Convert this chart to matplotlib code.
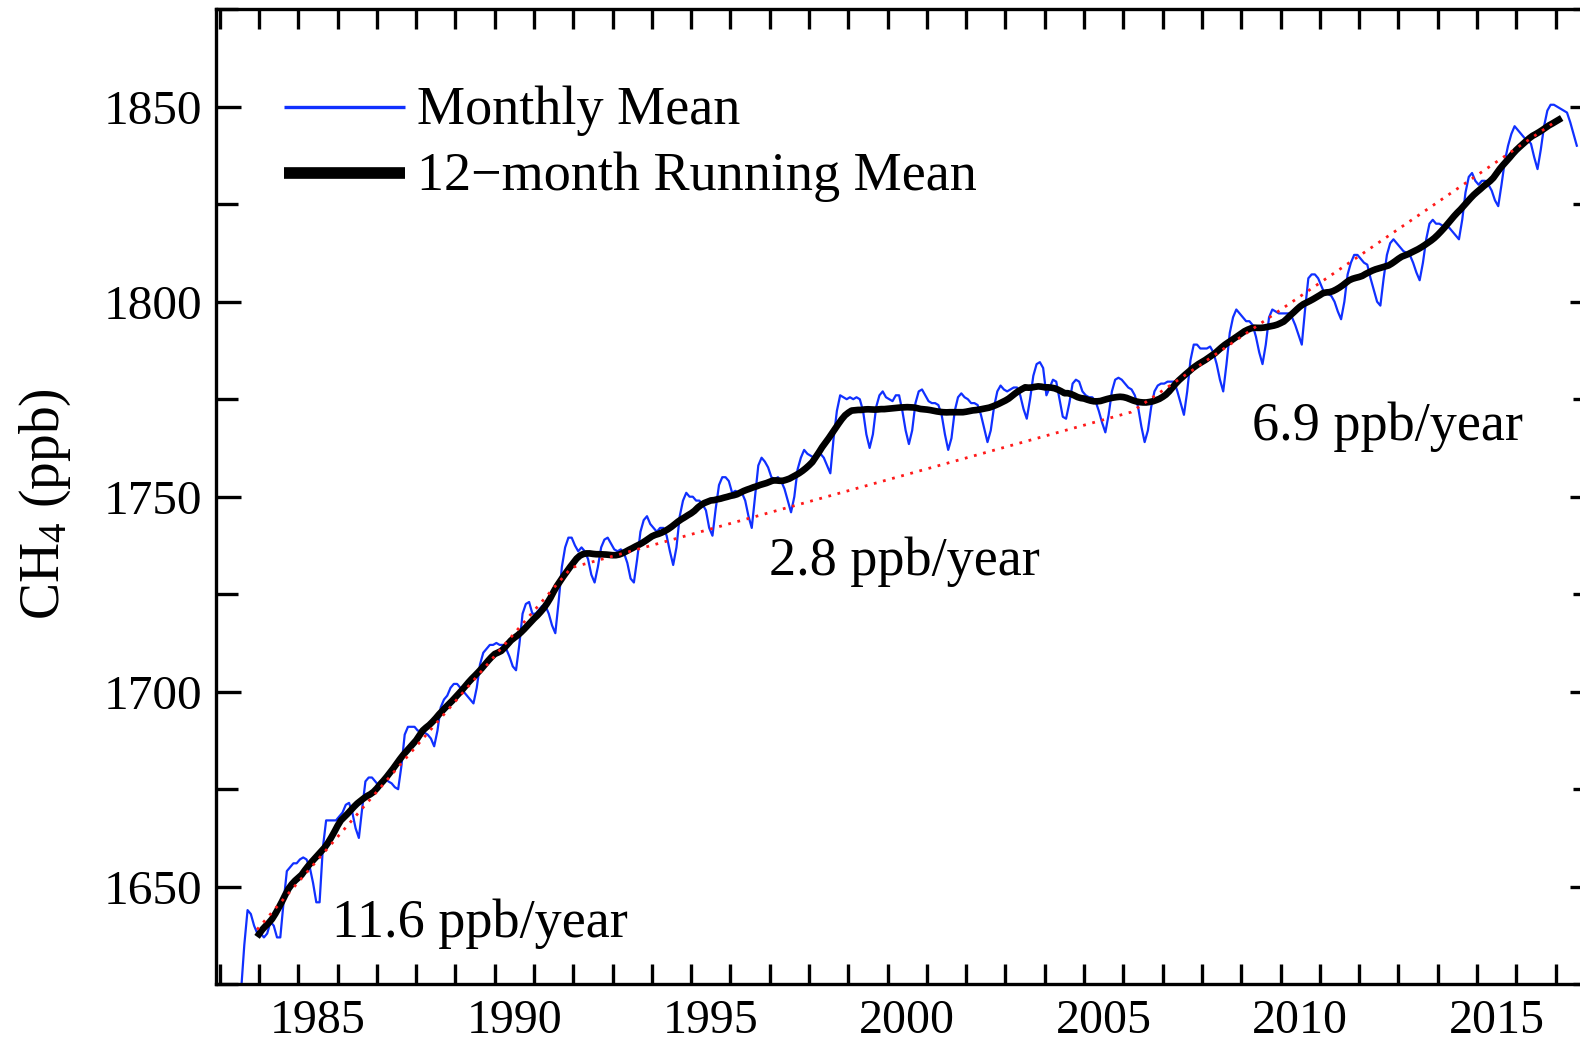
import matplotlib

matplotlib.use("Agg")
import matplotlib.pyplot as plt
import numpy as np
from matplotlib.ticker import FixedLocator, MultipleLocator

plt.rcParams["font.family"] = ["Liberation Serif", "DejaVu Serif"]
plt.rcParams["mathtext.fontset"] = "custom"
plt.rcParams["mathtext.rm"] = "Liberation Serif"
plt.rcParams["mathtext.it"] = "Liberation Serif:italic"

# global monthly mean CH4 (ppb), Jul 1983 onward
first_year, first_month = 1983, 7
ch4_monthly = [
    1623, 1635, 1644, 1643, 1640, 1638,                                          # 1983 (Jul-Dec)
    1638, 1637, 1638, 1641, 1640, 1637, 1637, 1646, 1654, 1655, 1656, 1656,      # 1984
    1657, 1657.5, 1657, 1655, 1651, 1646, 1646, 1660, 1667, 1667, 1667, 1667,    # 1985
    1668, 1669, 1671, 1671.5, 1669, 1665, 1662.5, 1670, 1677, 1678, 1678, 1677,  # 1986
    1676, 1677, 1678, 1677, 1676.5, 1675.5, 1675, 1681, 1689, 1691, 1691, 1691,  # 1987
    1690, 1690, 1689.5, 1689, 1688, 1686, 1690, 1696, 1698, 1699, 1701, 1702,    # 1988
    1702, 1701, 1700, 1699, 1698, 1697, 1701, 1707, 1710, 1711, 1712, 1712,      # 1989
    1712.5, 1712, 1712, 1711, 1709, 1706.5, 1705.5, 1712, 1720, 1722.5, 1723, 1720,  # 1990
    1720, 1721, 1722, 1722, 1720, 1717, 1715, 1723, 1732, 1737, 1739.5, 1739.5,  # 1991
    1737.5, 1736, 1737, 1736, 1734, 1730, 1728, 1732, 1737, 1739, 1739.5, 1738,  # 1992
    1736.5, 1736, 1736.5, 1735.5, 1733, 1729, 1728, 1734, 1741, 1744, 1745, 1743,  # 1993
    1742, 1741, 1742, 1742, 1740, 1736, 1732.5, 1737, 1745, 1749, 1751, 1750,    # 1994
    1750, 1749, 1749, 1748, 1746.5, 1742, 1740, 1747, 1753, 1755, 1755, 1754,    # 1995
    1751, 1751.5, 1751, 1751, 1749, 1745, 1742, 1750, 1758, 1760, 1759, 1757.5,  # 1996
    1755, 1754.5, 1755, 1754, 1752, 1749, 1746, 1750, 1757, 1760, 1762, 1761,    # 1997
    1760.5, 1760, 1761, 1761, 1760, 1758, 1756, 1765, 1772, 1776, 1775.5, 1775,  # 1998
    1775.5, 1775, 1775.5, 1775, 1772, 1766, 1762.5, 1766, 1773, 1776, 1777, 1775.5,  # 1999
    1775, 1774.5, 1776, 1776, 1772, 1767, 1763.5, 1767, 1774, 1777, 1777.5, 1776,  # 2000
    1774.5, 1774, 1774, 1773.5, 1771, 1766, 1762, 1765, 1772, 1775.5, 1776.5, 1775.5,  # 2001
    1775, 1774, 1774, 1773.5, 1771, 1767.5, 1764, 1767, 1773, 1777, 1778.5, 1777.5,  # 2002
    1777, 1777.5, 1778, 1778, 1776, 1772.5, 1770, 1775, 1781, 1784, 1784.5, 1783,  # 2003
    1776, 1778, 1780, 1779.5, 1775, 1770.5, 1770, 1774, 1779, 1780, 1779.5, 1777,  # 2004
    1776, 1775.5, 1775.5, 1774.5, 1772, 1769, 1766.5, 1771, 1777, 1780, 1780.5, 1780,  # 2005
    1779, 1778, 1777.5, 1776, 1773, 1768, 1764, 1767, 1773, 1777, 1778.5, 1779,  # 2006
    1779, 1779.5, 1779.5, 1779.5, 1777, 1774, 1771, 1777, 1785, 1789, 1789, 1788,  # 2007
    1788, 1788, 1788.5, 1787, 1784, 1780, 1777, 1784, 1792, 1796, 1798, 1797,    # 2008
    1796, 1795, 1795, 1794, 1791, 1787, 1784, 1789, 1796, 1798, 1797.5, 1797,    # 2009
    1797, 1797, 1797, 1796, 1794, 1791.5, 1789, 1798, 1806, 1807, 1807, 1806,    # 2010
    1804, 1802, 1802, 1801.5, 1800, 1797.5, 1795.5, 1800, 1807, 1810, 1812, 1812,  # 2011
    1811, 1810, 1809.5, 1806, 1803, 1800, 1799, 1806, 1812, 1815, 1816, 1815,    # 2012
    1814, 1813, 1812.5, 1812, 1810, 1807.5, 1805.5, 1810, 1816, 1820, 1821, 1820,  # 2013
    1820, 1819.5, 1819.5, 1819, 1818, 1817, 1816, 1821, 1828, 1832, 1833, 1831,  # 2014
    1830, 1831, 1831, 1830, 1828.5, 1826, 1824.5, 1830, 1836, 1840, 1843, 1845,  # 2015
    1844, 1843, 1842, 1841.5, 1840.5, 1837, 1834, 1839, 1845, 1849, 1850.5, 1850.5,  # 2016
    1850, 1849.5, 1849, 1848.5, 1846, 1843, 1840,                                # 2017 (Jan-Jul)
]

# piecewise linear growth: break years and rates (ppb/year)
trend_breaks = [1983.95, 1991.95, 2006.2, 2017.0]
trend_rates = [11.6, 2.8, 6.9]
trend_start = 1639.0
rate_labels = ["11.6 ppb/year", "2.8 ppb/year", "6.9 ppb/year"]
rate_label_pos = [(1985.85, 1637.2), (1996.98, 1729.9), (2009.27, 1764.5)]

year_ticks = [1985, 1990, 1995, 2000, 2005, 2010, 2015]

ch4 = np.array(ch4_monthly, dtype=float)
t = first_year + (first_month - 1 + np.arange(len(ch4)) + 0.5) / 12.0

# 12-month running mean
box = np.ones(12) / 12.0
ch4_run = np.convolve(ch4, box, mode="valid")
t_run = np.convolve(t, box, mode="valid")

trend_vals = [trend_start]
for i, r in enumerate(trend_rates):
    trend_vals.append(trend_vals[-1] + r * (trend_breaks[i + 1] - trend_breaks[i]))

fig = plt.figure(figsize=(15.8, 10.4), dpi=100)
ax = fig.add_axes([0.13658, 0.05365, 0.8728, 0.9375])

ax.plot(t, ch4, color="#1030ff", lw=1.6, zorder=2)
ax.plot(t_run, ch4_run, color="black", lw=4.8, zorder=3)
ax.plot(trend_breaks, trend_vals, color="#ff1a1a", lw=2.0,
        linestyle=(0, (1, 2.4)), zorder=4)

for s, (x, y) in zip(rate_labels, rate_label_pos):
    ax.text(x, y, s, fontsize=39, ha="left", va="baseline")

ax.set_xlim(1982.9, 2018.0)
ax.set_ylim(1625, 1875)

# year ticks on every Jan 1, labels centred in the year
ax.xaxis.set_major_locator(FixedLocator([y + 0.5 for y in year_ticks]))
ax.set_xticklabels([str(y) for y in year_ticks])
ax.xaxis.set_minor_locator(MultipleLocator(1))
ax.yaxis.set_major_locator(MultipleLocator(50))
ax.yaxis.set_minor_locator(MultipleLocator(25))

ax.tick_params(axis="x", which="major", length=0, pad=11, labelsize=34.5)
ax.tick_params(axis="x", which="minor", direction="in", length=14.4, width=2.4,
               top=True, bottom=True)
ax.tick_params(axis="y", which="major", direction="in", length=18, width=2.4,
               left=True, right=True, pad=10, labelsize=35.5)
ax.tick_params(axis="y", which="minor", direction="in", length=15.8, width=2.4,
               left=True, right=True)
for sp in ax.spines.values():
    sp.set_linewidth(2.4)

ax.set_ylabel(r"CH$_{\mathrm{4}}$ (ppb)", fontsize=40, va="center")
ax.yaxis.set_label_coords(-0.1238, 0.4925)

# legend
ax.plot([0.04945, 0.13719], [0.8997, 0.8997], color="#1030ff", lw=2.4,
        transform=ax.transAxes, solid_capstyle="butt")
ax.plot([0.04945, 0.13719], [0.8320, 0.8320], color="black", lw=8.4,
        transform=ax.transAxes, solid_capstyle="butt")
ax.text(0.14567, 0.8823, "Monthly Mean", fontsize=39, va="baseline",
        transform=ax.transAxes)
ax.text(0.14567, 0.8146, "12\u2212month Running Mean", fontsize=39,
        va="baseline", transform=ax.transAxes)

fig.savefig("out.png", dpi=100)
